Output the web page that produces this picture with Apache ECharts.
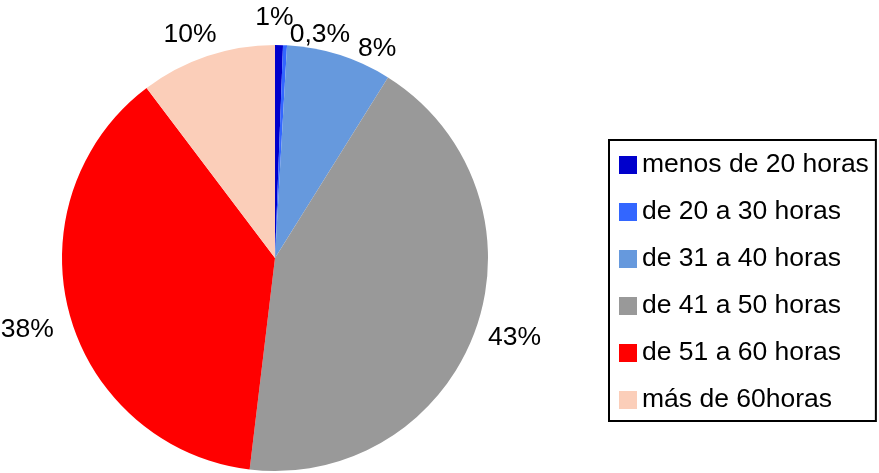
<!DOCTYPE html>
<html>
<head>
<meta charset="utf-8">
<script src="https://cdn.jsdelivr.net/npm/echarts@6/dist/echarts.min.js"></script>
<style>
    html, body { margin: 0; padding: 0; background: #fff; }
    #chart { width: 879px; height: 473px; }
</style>
</head>
<body>
<div id="chart"></div>
<script>
// categories and their shares (%)
var categories = ['menos de 20 horas', 'de 20 a 30 horas', 'de 31 a 40 horas', 'de 41 a 50 horas', 'de 51 a 60 horas', 'más de 60horas'];
var values = [0.6, 0.3, 8.0, 43.0, 37.8, 10.3];
var labels = ['1%', '0,3%', '8%', '43%', '38%', '10%'];
var colorList = ['#0000CC', '#3366FF', '#6699DD', '#999999', '#FF0000', '#FBCEB9'];

// nudge of each outside label so it sits where the original put it
var labelNudge = [[-29, -12], [-1, 4], [9, 8], [-7, 4], [4, 12], [19, -7]];

var chart = echarts.init(document.getElementById('chart'), null, { renderer: 'canvas' });

chart.setOption({
    animation: false,
    color: colorList,
    textStyle: {
        fontFamily: 'Liberation Sans, Arial, sans-serif'
    },
    legend: {
        orient: 'vertical',
        left: 609,
        top: 140,
        padding: [11, 7, 7, 10],
        borderColor: '#000',
        borderWidth: 2,
        itemWidth: 18,
        itemHeight: 18,
        itemGap: 19,
        icon: 'rect',
        textStyle: {
            fontSize: 26.5,
            lineHeight: 28,
            color: '#000'
        },
        data: categories
    },
    series: [
        {
            type: 'pie',
            center: [275, 258],
            radius: 213,
            startAngle: 90,
            clockwise: true,
            avoidLabelOverlap: false,
            label: {
                show: true,
                position: 'outside',
                fontSize: 26.5,
                color: '#000',
                formatter(params) {
                    return labels[params.dataIndex];
                }
            },
            labelLine: {
                show: false,
                length: 15,
                length2: 0
            },
            labelLayout(params) {
                var n = labelNudge[params.dataIndex];
                return { dx: n[0], dy: n[1], hideOverlap: false, moveOverlap: null };
            },
            itemStyle: {
                borderWidth: 0
            },
            data: categories.map(function (name, i) {
                return { name: name, value: values[i] };
            })
        }
    ]
});
</script>
</body>
</html>
